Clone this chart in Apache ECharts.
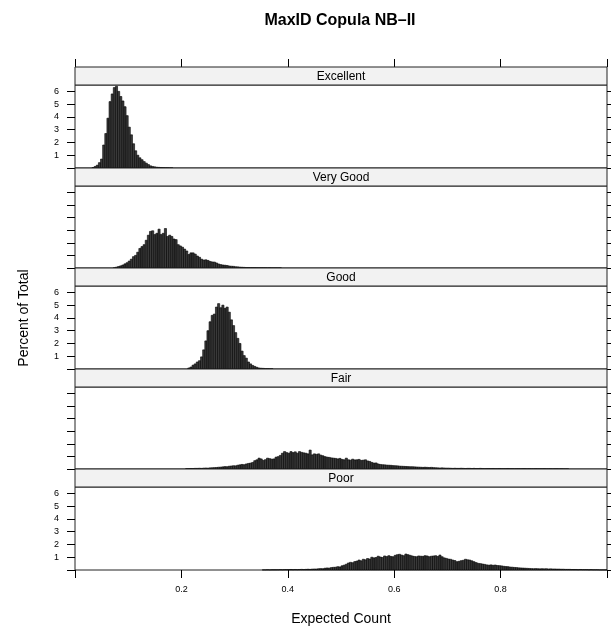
<!DOCTYPE html>
<html>
<head>
<meta charset="utf-8">
<title>MaxID Copula NB-II</title>
<script src="https://cdn.jsdelivr.net/npm/echarts@6/dist/echarts.min.js"></script>
<style>
  html, body { margin: 0; padding: 0; background: #fff; }
  #chart { width: 611px; height: 631px; }
</style>
</head>
<body>
<div id="chart"></div>
<script>
// panels, top to bottom
const panelNames = ["Excellent", "Very Good", "Good", "Fair", "Poor"];

// histogram bins: every panel uses the same bin width, first bin edge per panel
const binWidth = 0.004;
const binStarts = [0.032, 0.072, 0.212, 0.208, 0.352];

// percent of total, one value per bin
const excellentPct = [0.04, 0.12, 0.22, 0.42, 0.7, 1.8, 2.7, 3.9, 5.2, 5.8, 6.3, 6.4, 6.0, 5.6, 5.25, 4.8, 4.1, 3.2, 2.6, 1.9,
  1.35, 1.0, 0.8, 0.65, 0.5, 0.38, 0.27, 0.17, 0.12, 0.09, 0.06, 0.05, 0.04, 0.03, 0.02, 0.02, 0.01, 0.01];

const veryGoodPct = [0.02, 0.07, 0.12, 0.17, 0.24, 0.33, 0.42, 0.55, 0.7, 0.9, 1.0, 1.25, 1.55, 1.7, 1.85, 2.2, 2.6, 2.9, 2.95, 2.65,
  2.75, 3.08, 2.65, 2.75, 3.13, 2.5, 2.6, 2.5, 2.3, 2.25, 1.85, 1.75, 1.65, 1.5, 1.35, 1.07, 1.2, 1.2, 1.1, 0.95,
  0.85, 0.7, 0.63, 0.65, 0.6, 0.52, 0.48, 0.47, 0.4, 0.32, 0.27, 0.24, 0.22, 0.2, 0.16, 0.14, 0.13, 0.1, 0.09, 0.07,
  0.06, 0.05, 0.04, 0.04, 0.03, 0.03, 0.03, 0.02, 0.02, 0.02, 0.02, 0.02, 0.01, 0.02, 0.01, 0.01, 0.01, 0.01, 0.01];

const goodPct = [0.08, 0.15, 0.3, 0.4, 0.55, 0.65, 0.95, 1.5, 2.2, 3.0, 3.7, 4.2, 4.3, 4.85, 5.12, 4.8, 5.0, 4.75, 4.85, 4.45,
  3.85, 3.4, 2.85, 2.4, 2.0, 1.4, 1.05, 0.85, 0.55, 0.4, 0.28, 0.2, 0.13, 0.08, 0.06, 0.05, 0.03, 0.03, 0.02, 0.02];

const fairPct = [0.03, 0.03, 0.04, 0.04, 0.05, 0.05, 0.06, 0.05, 0.07, 0.08, 0.07, 0.09, 0.10, 0.11, 0.12, 0.14, 0.15, 0.17, 0.19, 0.18,
  0.22, 0.24, 0.26, 0.25, 0.30, 0.33, 0.36, 0.34, 0.40, 0.44, 0.47, 0.52, 0.66, 0.73, 0.86, 0.80, 0.68, 0.74, 0.86, 0.82,
  0.78, 0.80, 0.94, 0.98, 1.08, 1.25, 1.38, 1.30, 1.25, 1.38, 1.30, 1.36, 1.25, 1.38, 1.32, 1.28, 1.25, 1.20, 1.50, 1.12,
  1.20, 1.16, 1.20, 1.10, 1.05, 0.98, 0.94, 0.92, 0.88, 0.86, 0.84, 0.80, 0.84, 0.76, 0.73, 0.86, 0.73, 0.70, 0.78, 0.72,
  0.73, 0.76, 0.68, 0.70, 0.73, 0.64, 0.60, 0.52, 0.47, 0.48, 0.40, 0.36, 0.34, 0.33, 0.31, 0.30, 0.29, 0.27, 0.26, 0.25,
  0.23, 0.22, 0.21, 0.20, 0.19, 0.18, 0.18, 0.17, 0.16, 0.15, 0.14, 0.13, 0.14, 0.13, 0.12, 0.13, 0.11, 0.10, 0.09, 0.08,
  0.09, 0.08, 0.07, 0.07, 0.06, 0.05, 0.06, 0.05, 0.05, 0.06, 0.05, 0.04, 0.05, 0.05, 0.04, 0.05, 0.04, 0.04, 0.05, 0.04,
  0.03, 0.04, 0.04, 0.03, 0.04, 0.03, 0.03, 0.04, 0.03, 0.03, 0.03, 0.04, 0.03, 0.03, 0.02, 0.03, 0.03, 0.02, 0.03, 0.03,
  0.02, 0.03, 0.02, 0.02, 0.03, 0.02, 0.02, 0.02, 0.03, 0.02, 0.02, 0.02, 0.01, 0.02, 0.02, 0.01, 0.02, 0.01, 0.01, 0.01];

const poorPct = [0.01, 0.01, 0.02, 0.01, 0.02, 0.02, 0.02, 0.02, 0.03, 0.02, 0.03, 0.03, 0.03, 0.04, 0.03, 0.04, 0.03, 0.04, 0.05, 0.04,
  0.05, 0.06, 0.05, 0.07, 0.08, 0.08, 0.10, 0.11, 0.10, 0.14, 0.16, 0.15, 0.19, 0.21, 0.22, 0.26, 0.24, 0.33, 0.38, 0.45,
  0.55, 0.60, 0.57, 0.66, 0.70, 0.78, 0.72, 0.84, 0.80, 0.90, 0.86, 1.00, 0.95, 0.98, 1.08, 1.02, 0.98, 1.10, 1.05, 1.12,
  1.06, 1.04, 1.15, 1.20, 1.23, 1.17, 1.12, 1.25, 1.20, 1.15, 1.10, 1.06, 1.04, 1.10, 1.08, 1.07, 1.12, 1.10, 1.04, 1.08,
  1.10, 1.12, 1.06, 1.17, 1.04, 0.95, 0.91, 0.86, 0.84, 0.78, 0.74, 0.65, 0.68, 0.73, 0.76, 0.84, 0.80, 0.78, 0.72, 0.65,
  0.58, 0.52, 0.50, 0.47, 0.44, 0.40, 0.38, 0.40, 0.37, 0.39, 0.35, 0.34, 0.32, 0.29, 0.27, 0.26, 0.23, 0.22, 0.20, 0.19,
  0.17, 0.16, 0.15, 0.14, 0.13, 0.12, 0.11, 0.10, 0.11, 0.10, 0.09, 0.10, 0.09, 0.10, 0.08, 0.09, 0.08, 0.08, 0.07, 0.07,
  0.06, 0.06, 0.05, 0.05, 0.05, 0.04, 0.04, 0.04, 0.03, 0.04, 0.03, 0.03, 0.03, 0.02, 0.03, 0.02, 0.02, 0.02, 0.01, 0.01,
  0.01, 0.01];

const panelPct = [excellentPct, veryGoodPct, goodPct, fairPct, poorPct];

const xTicks = [0, 0.2, 0.4, 0.6, 0.8, 1];
const xLabels = [0.2, 0.4, 0.6, 0.8];
const yTicks = [0, 1, 2, 3, 4, 5, 6];
const yLabels = [1, 2, 3, 4, 5, 6];

// layout
const plotLeft = 75, plotWidth = 532;
const stripH = 18;
const stripTops = panelNames.map((_, i) => Math.round(67 + 100.6 * i));
const panelBottoms = stripTops.slice(1).concat([570]);
const font = "Liberation Sans, Arial, Helvetica, sans-serif";

const chart = echarts.init(document.getElementById("chart"));

const grids = [], xAxes = [], yAxes = [], series = [], graphics = [];

panelNames.forEach((name, i) => {
  const top = stripTops[i] + stripH;
  grids.push({
    left: plotLeft, width: plotWidth, top: top, height: panelBottoms[i] - top,
    show: true, borderColor: "#222", borderWidth: 1, backgroundColor: "transparent"
  });
  const isBottom = i === panelNames.length - 1;
  xAxes.push({
    type: "value", gridIndex: i, min: 0, max: 1, position: "bottom",
    splitLine: { show: false },
    axisLine: { show: false, onZero: false },
    axisTick: { show: isBottom, customValues: xTicks, length: 8, lineStyle: { color: "#000" } },
    axisLabel: {
      show: isBottom, customValues: xLabels, margin: 15, fontSize: 9, color: "#000", fontFamily: font,
      formatter: v => v.toFixed(1)
    }
  });
  // left y axis: labels on panels 1, 3, 5
  yAxes.push({
    type: "value", gridIndex: i, min: 0, max: 6.5, position: "left",
    splitLine: { show: false },
    axisLine: { show: false, onZero: false },
    axisTick: { show: true, customValues: yTicks, length: 8, lineStyle: { color: "#000" } },
    axisLabel: { show: i % 2 === 0, customValues: yLabels, margin: 16, fontSize: 9, color: "#000", fontFamily: font }
  });
  // right y axis: ticks only
  yAxes.push({
    type: "value", gridIndex: i, min: 0, max: 6.5, position: "right",
    splitLine: { show: false },
    axisLine: { show: false, onZero: false },
    axisTick: { show: true, customValues: yTicks, length: 8, lineStyle: { color: "#000" } },
    axisLabel: { show: false }
  });

  const data = panelPct[i].map((p, k) => {
    const x0 = binStarts[i] + k * binWidth;
    return [x0, x0 + binWidth, p];
  });
  series.push({
    type: "custom", name: name, xAxisIndex: i, yAxisIndex: 2 * i,
    encode: { x: [0, 1], y: 2 },
    data: data,
    renderItem: (params, api) => {
      const p0 = api.coord([api.value(0), api.value(2)]);
      const p1 = api.coord([api.value(1), 0]);
      return {
        type: "rect",
        shape: { x: p0[0], y: p0[1], width: p1[0] - p0[0], height: p1[1] - p0[1] },
        style: { fill: "#3a3a3a", stroke: "#000", lineWidth: 0.6 }
      };
    }
  });

  // strip with panel name
  graphics.push({
    type: "rect", z: 10,
    shape: { x: plotLeft, y: stripTops[i], width: plotWidth, height: stripH },
    style: { fill: "#f2f2f2", stroke: "#222", lineWidth: 1 }
  });
  graphics.push({
    type: "text", z: 11, x: plotLeft + plotWidth / 2, y: stripTops[i] + stripH / 2 + 0.5,
    style: { text: name, align: "center", verticalAlign: "middle", fontSize: 12, fontFamily: font, fill: "#000" }
  });
});

// ticks along the top of the first strip
xAxes.push({
  type: "value", gridIndex: 0, min: 0, max: 1, position: "top", offset: stripH,
  splitLine: { show: false },
  axisLine: { show: false, onZero: false },
  axisTick: { show: true, customValues: xTicks, length: 8, lineStyle: { color: "#000" } },
  axisLabel: { show: false }
});

graphics.push({
  type: "text", x: 340, y: 21,
  style: { text: "MaxID Copula NB–II", align: "center", verticalAlign: "middle", fontSize: 16, fontWeight: "bold", fontFamily: font, fill: "#000" }
});
graphics.push({
  type: "text", x: plotLeft + plotWidth / 2, y: 619,
  style: { text: "Expected Count", align: "center", verticalAlign: "middle", fontSize: 14, fontFamily: font, fill: "#000" }
});
graphics.push({
  type: "text", x: 24, y: 318, rotation: Math.PI / 2,
  style: { text: "Percent of Total", align: "center", verticalAlign: "middle", fontSize: 14, fontFamily: font, fill: "#000" }
});

chart.setOption({
  animation: false,
  grid: grids,
  xAxis: xAxes,
  yAxis: yAxes,
  series: series,
  graphic: graphics
});
</script>
</body>
</html>
